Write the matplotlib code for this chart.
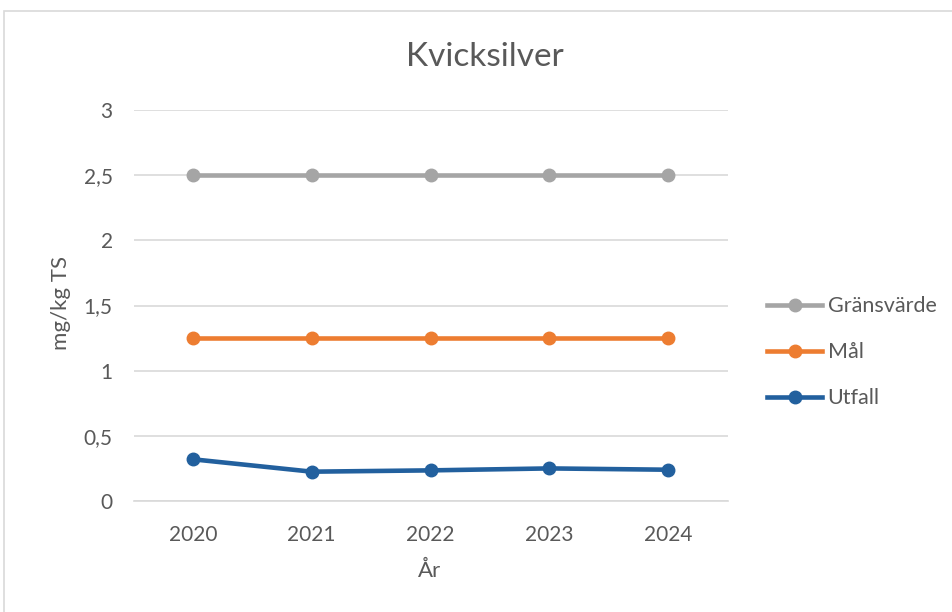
import matplotlib
matplotlib.use("Agg")
import matplotlib.pyplot as plt
from matplotlib.patches import Rectangle
from matplotlib.lines import Line2D

plt.rcParams['font.family'] = ['Lato', 'DejaVu Sans']

years = ["2020", "2021", "2022", "2023", "2024"]
gransvarde = [2.5, 2.5, 2.5, 2.5, 2.5]
mal = [1.25, 1.25, 1.25, 1.25, 1.25]
utfall = [0.32, 0.225, 0.235, 0.25, 0.24]
series_names = ["Gränsvärde", "Mål", "Utfall"]
yticks = [0, 0.5, 1, 1.5, 2, 2.5, 3]
ytick_labels = ["0", "0,5", "1", "1,5", "2", "2,5", "3"]

colors = ["#A5A5A5", "#ED7D31", "#22609E"]
text_color = "#595959"

W, H = 952, 612
fig = plt.figure(figsize=(W / 100, H / 100), dpi=100)

# chart frame
fig.patches.append(Rectangle((4 / W, -0.01), 1.02, 1 - 11 / H + 0.01,
                             transform=fig.transFigure, fill=False,
                             edgecolor="#D9D9D9", linewidth=1.2))

ax = fig.add_axes([133.5 / W, 1 - 501 / H, 594 / W, 391 / H])
x = list(range(len(years)))
for vals, c, name in zip([gransvarde, mal, utfall], colors, series_names):
    ax.plot(x, vals, color=c, linewidth=3.3, marker="o", markersize=9,
            solid_capstyle="round", label=name, zorder=3)

ax.set_xlim(-0.5, len(years) - 0.5)
ax.set_ylim(0, 3)
ax.set_yticks(yticks)
ax.set_yticklabels(ytick_labels)
ax.set_xticks(x)
ax.set_xticklabels(years)
ax.grid(axis="y", color="#D9D9D9", linewidth=1.2, zorder=0)
ax.set_axisbelow(True)
for s in ["top", "right", "left"]:
    ax.spines[s].set_visible(False)
ax.spines["bottom"].set_color("#D9D9D9")
ax.spines["bottom"].set_linewidth(1.2)
ax.tick_params(axis="both", length=0, labelsize=15, labelcolor=text_color)
ax.tick_params(axis="y", pad=15)
ax.tick_params(axis="x", pad=17)

fig.text(485 / W, 1 - 57 / H, "Kvicksilver", ha="center", va="center",
         fontsize=24, color=text_color)
fig.text(61 / W, 1 - 303 / H, "mg/kg TS", ha="center", va="center",
         rotation=90, fontsize=16, color=text_color)
fig.text(430 / W, 1 - 571 / H, "År", ha="center", va="center",
         fontsize=16, color=text_color)

handles = [Line2D([], [], color=c, linewidth=3.3, marker="o", markersize=9)
           for c in colors]
fig.legend(handles, series_names, loc="upper left",
           bbox_to_anchor=(748 / W, 1 - 277 / H), frameon=False,
           fontsize=15.5, labelcolor=text_color, handlelength=2.55,
           handletextpad=0.25, labelspacing=1.2)

fig.savefig("out.png", dpi=100)
